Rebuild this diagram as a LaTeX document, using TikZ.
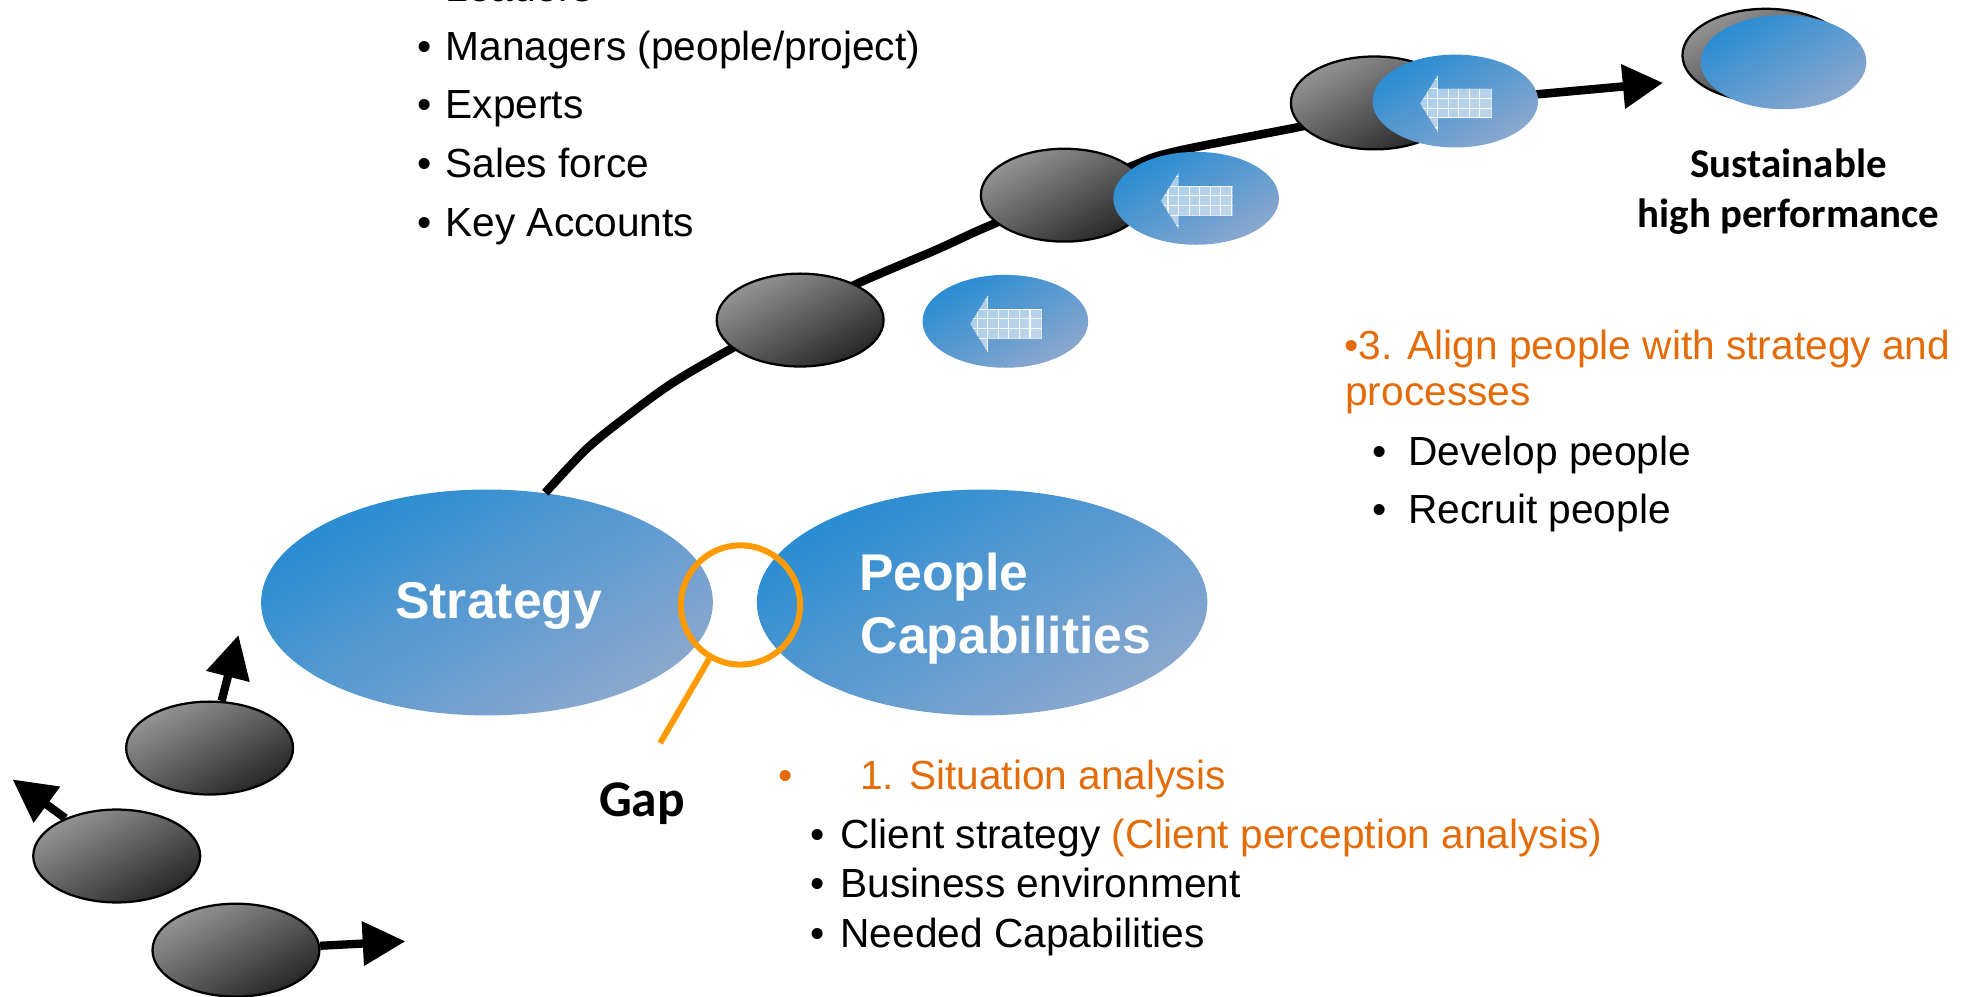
\documentclass[tikz,border=0pt]{standalone}
\usepackage{fontspec}
\setmainfont{Liberation Sans}
\newfontfamily\calib{Carlito}
\usetikzlibrary{shapes.geometric,arrows.meta}
\definecolor{blueA}{HTML}{288CD2}
\definecolor{blueB}{HTML}{8CA8CE}
\definecolor{grayA}{HTML}{959595}
\definecolor{grayB}{HTML}{262626}
\definecolor{orT}{HTML}{E36C09}
\definecolor{orC}{HTML}{FF9A00}
\newcommand\bul[2]{\makebox[#1][l]{•}#2}
\tikzset{
  blueell/.style={ellipse, inner sep=0, draw=none, top color=blueA, bottom color=blueB, shading angle=30},
  bigblue/.style={blueell, minimum width=180pt, minimum height=90pt},
  smallblue/.style={blueell, minimum width=66pt, minimum height=37pt},
  grayell/.style={ellipse, inner sep=0, draw=black, line width=0.9pt, top color=grayA, bottom color=grayB, shading angle=30, minimum width=66.5pt, minimum height=37pt},
  curveline/.style={line width=3.4pt, -{Triangle[length=16pt,width=17pt]}},
  fatarrow/.style={line width=3.3pt, -{Triangle[length=17pt,width=17pt]}},
  txt/.style={font=\fontsize{16.2}{19}\selectfont, inner sep=0, anchor=base west},
  bigwhite/.style={font=\fontsize{20.6}{24}\selectfont\bfseries, text=white, inner sep=0, anchor=base west},
  calbold/.style={font=\calib\bfseries\fontsize{16.3}{19}\selectfont, inner sep=0, anchor=base},
  gapring/.style={circle, draw=orC, line width=2.4pt, minimum size=47.5pt, inner sep=0},
  gaphandle/.style={draw=orC, line width=2.4pt}
}
\newcommand\gridarrow[1]{%
  \begin{scope}[shift={(#1.center)}]
    \begin{scope}
      \clip (-28,2) -- (-14,-20.5) -- (-14,-9.7) -- (29,-9.7) -- (29,13.7) -- (-14,13.7) -- (-14,24.5) -- cycle;
      \fill[white, opacity=0.55] (-30,-22) rectangle (30,26);
      \foreach \gx in {-22.4,-14,-5.6,2.8,11.2,19.6,28.6}
        \draw[white, opacity=0.9, line width=0.45pt] (\gx,-25) -- (\gx,27);
      \foreach \gy in {-17.5,-9.7,-1.9,5.9,13.4,21.5}
        \draw[white, opacity=0.9, line width=0.45pt] (-30,\gy) -- (30,\gy);
    \end{scope}
  \end{scope}}
\begin{document}
\begin{tikzpicture}[x={(0.5pt,0)}, y={(0,-0.5pt)}]
\path[use as bounding box] (0,0) rectangle (1568,794);

% big ellipses
\node[bigblue] (strategy) at (388,480) {};
\node[bigblue, minimum width=179.5pt] (people) at (782.5,480) {};

% main curve
\coordinate (c0) at (strategy.62);
\coordinate (ctip) at (1325,66);
\draw[curveline] plot[smooth, tension=0.55] coordinates {(c0) (467,358) (499,332) (536,305) (584,277) (633,251) (683,226) (746,199) (781,183) (840,158) (900,133) (935,121) (1036,101) (1095,89) (1159,81) (1226,75) (ctip)};

% gray ellipses on the curve
\node[grayell] (g1) at (637.5,255) {};
\node[grayell] (g2) at (848,155.5) {};
\node[grayell] (g3) at (1095,82) {};
\node[grayell] (gf) at (1407,44) {};

% blue ellipses with arrows
\node[smallblue] (b1) at (801,256) {};
\node[smallblue] (b2) at (953,158) {};
\node[smallblue] (b3) at (1159.5,80.5) {};
\node[smallblue, minimum height=37.5pt] (bf) at (1421,49.5) {};
\gridarrow{b1}
\gridarrow{b2}
\gridarrow{b3}

% lower-left ellipses with arrows
\node[grayell] (l1) at (167,596) {};
\node[grayell] (l2) at (93,682) {};
\node[grayell] (l3) at (188,757) {};
\coordinate (t1) at (190,506);
\coordinate (t2) at (10,621);
\coordinate (t3) at (323,750);
\draw[fatarrow] (l1) -- (t1);
\draw[fatarrow] (l2) -- (t2);
\draw[fatarrow] (l3) -- (t3);

% gap magnifier
\node[gapring] (gap) at (590,482) {};
\coordinate (gapend) at (526,592);
\draw[gaphandle] (gap) -- (gapend);

% texts on ellipses
\node[bigwhite] (tstrat) at (314.5,492.6) {Strategy};
\node[bigwhite] (tpeople) at (684,470.5) {People};
\node[bigwhite] (tcap) at (685.5,520.5) {Capabilities};

\node[calbold] (tsus) at (1425,141.5) {Sustainable};
\node[calbold] (thigh) at (1425,181) {high performance};
\node[calbold, font=\calib\bfseries\fontsize{20.5}{24}\selectfont, anchor=base west] (tgap) at (477,650.5) {Gap};

% top list
\node[txt] (k0) at (332,1.3) {\bul{11.3pt}{Leaders}};
\node[txt] (k1) at (332,48) {\bul{11.3pt}{Managers (people/project)}};
\node[txt] (k2) at (332,94.7) {\bul{11.3pt}{Experts}};
\node[txt] (k3) at (332,141.4) {\bul{11.3pt}{Sales force}};
\node[txt] (k4) at (332,188.1) {\bul{11.3pt}{Key Accounts}};

% right list
\node[txt, text=orT] (r0) at (1070.8,286.8) {•3. Align people with strategy and};
\node[txt, text=orT] (r1) at (1071.5,323) {processes};
\node[txt] (r2) at (1092.9,370.5) {\bul{14.5pt}{Develop people}};
\node[txt] (r3) at (1092.9,417) {\bul{14.5pt}{Recruit people}};

% bottom list
\node[txt, text=orT] (s0) at (619.8,629.4) {\bul{32.6pt}{1. Situation analysis}};
\node[txt] (s1) at (645.1,675.9) {\bul{12.1pt}{Client strategy \textcolor{orT}{(Client perception analysis)}}};
\node[txt] (s2) at (645.1,715) {\bul{12.1pt}{Business environment}};
\node[txt] (s3) at (645.1,754.8) {\bul{12.1pt}{Needed Capabilities}};
\end{tikzpicture}
\end{document}
